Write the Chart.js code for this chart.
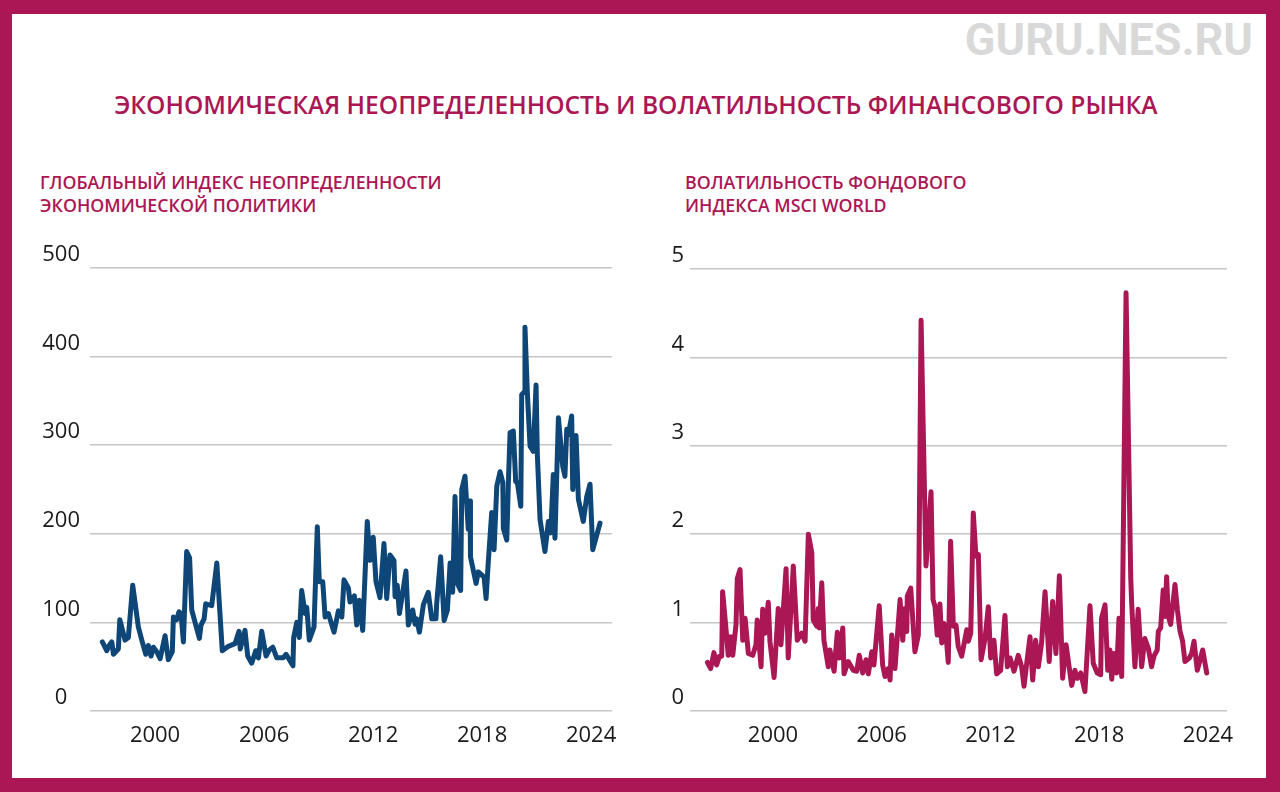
<!DOCTYPE html>
<html lang="ru">
<head>
<meta charset="utf-8">
<title>Экономическая неопределенность и волатильность</title>
<script src="https://cdn.jsdelivr.net/npm/chart.js@4.4.1/dist/chart.umd.min.js"></script>
<style>
  html, body { margin: 0; padding: 0; }
  body { width: 1280px; height: 792px; background: #ab1654; position: relative; overflow: hidden; font-family: "Open Sans", sans-serif; }
  .sheet { position: absolute; left: 12px; top: 14px; width: 1254px; height: 764px; background: #fff; }
  .wm { position: absolute; right: 27px; top: 17px; font: 700 45px Roboto, sans-serif; color: #d9d9d9; line-height: 1; }
  .title { position: absolute; left: 0; width: 1272px; top: 90px; text-align: center; font-weight: 600; font-size: 24.6px; color: #ab1654; line-height: 1.2; }
  .sub { position: absolute; top: 171px; font-weight: 600; font-size: 17.8px; color: #ab1654; line-height: 23px; }
  .box { position: absolute; top: 225px; height: 545px; }
</style>
</head>
<body>
<div class="sheet"></div>
<div class="wm">GURU.NES.RU</div>
<div class="title">ЭКОНОМИЧЕСКАЯ НЕОПРЕДЕЛЕННОСТЬ И ВОЛАТИЛЬНОСТЬ ФИНАНСОВОГО РЫНКА</div>
<div class="sub" style="left:40px">ГЛОБАЛЬНЫЙ ИНДЕКС НЕОПРЕДЕЛЕННОСТИ<br>ЭКОНОМИЧЕСКОЙ ПОЛИТИКИ</div>
<div class="sub" style="left:685px">ВОЛАТИЛЬНОСТЬ ФОНДОВОГО<br>ИНДЕКСА MSCI WORLD</div>
<div class="box" style="left:30px;width:600px"><canvas id="epu"></canvas></div>
<div class="box" style="left:635px;width:622px"><canvas id="vol"></canvas></div>

<script>
// years on the x axis (decimal)
const xTicks = [2000, 2006, 2012, 2018, 2024];

// global economic policy uncertainty index
const epuYears = [1997.10,1997.34,1997.47,1997.62,1997.71,1997.98,1998.06,1998.35,1998.53,1998.77,
  1999.08,1999.27,1999.49,1999.63,1999.78,1999.91,2000.09,2000.28,2000.55,2000.73,
  2000.95,2001.01,2001.19,2001.32,2001.43,2001.56,2001.74,2001.90,2002.02,2002.44,
  2002.53,2002.70,2002.79,2003.12,2003.40,2003.70,2004.03,2004.40,2004.62,2004.69,
  2004.95,2005.10,2005.32,2005.54,2005.69,2005.87,2006.11,2006.29,2006.48,2006.70,
  2007.06,2007.21,2007.59,2007.63,2007.80,2007.94,2008.07,2008.26,2008.35,2008.49,
  2008.75,2008.93,2009.04,2009.23,2009.36,2009.54,2009.85,2010.09,2010.28,2010.40,
  2010.64,2010.73,2010.97,2011.10,2011.24,2011.43,2011.68,2011.83,2012.01,2012.16,
  2012.38,2012.60,2012.75,2012.93,2013.15,2013.21,2013.33,2013.45,2013.81,2013.94,
  2014.18,2014.31,2014.40,2014.55,2014.77,2015.04,2015.23,2015.46,2015.50,2015.72,
  2015.91,2016.09,2016.24,2016.38,2016.51,2016.64,2016.82,2016.88,2017.06,2017.24,
  2017.34,2017.36,2017.67,2017.79,2018.11,2018.22,2018.34,2018.53,2018.66,2018.81,
  2018.99,2019.14,2019.17,2019.36,2019.44,2019.54,2019.72,2019.85,2019.94,2020.13,
  2020.18,2020.31,2020.36,2020.49,2020.64,2020.82,2020.97,2021.04,2021.19,2021.46,
  2021.65,2021.78,2021.92,2022.01,2022.20,2022.44,2022.56,2022.66,2022.75,2022.93,
  2022.99,2023.17,2023.30,2023.57,2023.76,2023.94,2024.09,2024.49];
const epuValues = [78,68,74,78,64,70,103,80,83,142,
  95,80,64,74,62,72,67,59,85,58,
  67,106,103,112,110,78,180,173,114,82,
  97,104,121,119,167,68,73,76,90,70,
  91,62,54,68,60,90,62,69,72,60,
  60,64,51,83,100,83,136,110,117,80,
  95,208,146,146,106,110,89,113,106,148,
  139,123,130,97,125,91,214,170,196,146,
  128,189,127,176,170,129,142,110,158,97,
  114,98,104,89,120,134,104,104,121,174,
  102,114,167,134,242,144,136,250,265,205,
  237,174,144,157,151,127,168,224,182,254,
  270,258,206,193,254,314,316,259,258,231,
  357,360,433,360,299,293,368,290,216,180,
  214,201,267,195,331,276,265,318,312,333,
  250,311,239,214,242,256,182,212];

// MSCI World volatility
const volYears = [1996.38,1996.56,1996.74,1996.89,1997.04,1997.17,1997.22,1997.41,1997.53,1997.67,
  1997.78,1997.96,1998.03,1998.18,1998.33,1998.46,1998.64,1998.88,1999.06,1999.13,
  1999.34,1999.43,1999.56,1999.74,1999.83,2000.06,2000.29,2000.44,2000.72,2000.84,
  2001.12,2001.34,2001.58,2001.77,2001.95,2002.14,2002.22,2002.41,2002.50,2002.55,
  2002.69,2002.81,2003.05,2003.14,2003.37,2003.55,2003.66,2003.85,2003.92,2004.15,
  2004.43,2004.62,2004.76,2004.95,2005.13,2005.26,2005.45,2005.57,2005.86,2006.05,
  2006.18,2006.36,2006.46,2006.55,2006.73,2007.01,2007.16,2007.28,2007.38,2007.41,
  2007.60,2007.83,2008.02,2008.17,2008.44,2008.72,2008.83,2008.94,2009.06,2009.21,
  2009.31,2009.43,2009.54,2009.67,2009.80,2009.95,2010.10,2010.22,2010.41,2010.69,
  2010.78,2010.91,2011.05,2011.20,2011.33,2011.48,2011.70,2011.88,2012.01,2012.19,
  2012.34,2012.56,2012.80,2012.93,2013.08,2013.30,2013.53,2013.72,2013.85,2014.00,
  2014.18,2014.33,2014.49,2014.64,2014.82,2015.01,2015.24,2015.43,2015.61,2015.80,
  2015.98,2016.17,2016.48,2016.66,2016.79,2016.98,2017.21,2017.49,2017.67,2017.89,
  2018.08,2018.13,2018.32,2018.47,2018.59,2018.69,2018.81,2018.96,2019.09,2019.24,
  2019.48,2019.74,2019.79,2019.97,2020.15,2020.34,2020.52,2020.71,2020.89,2021.02,
  2021.20,2021.26,2021.39,2021.53,2021.63,2021.72,2021.81,2021.94,2022.18,2022.31,
  2022.46,2022.60,2022.73,2022.97,2023.10,2023.23,2023.41,2023.71,2023.93];
const volValues = [0.55,0.48,0.66,0.52,0.62,0.62,1.35,0.92,0.63,0.84,
  0.63,0.98,1.50,1.60,0.80,1.05,0.65,0.63,0.75,1.03,
  0.50,1.15,0.88,1.23,0.79,0.38,1.16,0.75,1.61,0.60,
  1.64,0.80,0.88,0.79,2.00,1.79,1.03,0.96,1.16,0.94,
  1.45,0.80,0.50,0.69,0.45,0.89,0.60,0.94,0.42,0.56,
  0.46,0.45,0.63,0.43,0.58,0.42,0.67,0.52,1.19,0.52,
  0.39,0.48,0.35,0.86,0.48,1.26,0.80,1.16,0.90,1.30,
  1.39,0.67,0.86,4.42,1.64,2.48,1.26,1.18,0.86,1.21,
  0.77,0.99,0.88,0.55,1.92,0.96,0.97,0.73,0.62,0.92,
  0.79,0.88,2.24,1.75,1.77,0.58,0.82,1.18,0.60,0.80,
  0.42,0.46,1.08,0.50,0.60,0.45,0.63,0.50,0.28,0.54,
  0.84,0.35,0.80,0.50,0.77,1.35,0.56,1.24,0.65,1.53,
  0.37,0.75,0.29,0.46,0.37,0.43,0.22,1.19,0.54,0.43,
  0.41,1.05,1.20,0.46,0.69,0.36,0.65,0.43,1.05,0.39,
  4.73,1.50,1.22,0.50,1.15,0.50,0.82,0.71,0.50,0.62,
  0.69,0.90,0.94,1.37,1.07,1.52,1.07,0.98,1.43,1.15,
  0.90,0.79,0.56,0.60,0.65,0.79,0.46,0.69,0.43];

const tickFont = { family: "'Open Sans', sans-serif", size: 22 };

function makeChart(id, xs, ys, color, xMin, xMax, yMax, yStep, axisW, axisPad, pad) {
  return new Chart(document.getElementById(id), {
    type: 'line',
    data: {
      datasets: [{
        data: xs.map((x, i) => ({ x: x, y: ys[i] })),
        borderColor: color,
        borderWidth: 5,
        borderJoinStyle: 'round',
        borderCapStyle: 'round',
        pointRadius: 0,
        tension: 0
      }]
    },
    options: {
      responsive: true,
      maintainAspectRatio: false,
      animation: false,
      layout: { padding: pad },
      plugins: { legend: { display: false }, tooltip: { enabled: false } },
      scales: {
        x: {
          type: 'linear',
          min: xMin,
          max: xMax,
          afterBuildTicks: s => { s.ticks = xTicks.map(v => ({ value: v })); },
          afterFit: s => { s.height = 50; },
          grid: { display: false, drawTicks: false },
          border: { display: false },
          ticks: { font: tickFont, color: '#1a1a1a', padding: 12, maxRotation: 0, callback: v => String(v) }
        },
        y: {
          min: 0,
          max: yMax,
          afterFit: s => { s.width = axisW; },
          grid: { color: '#c6c6c6', lineWidth: 1.5, drawTicks: false },
          border: { display: false },
          ticks: { stepSize: yStep, font: tickFont, color: '#1a1a1a', padding: axisPad, crossAlign: 'center', labelOffset: -13 }
        }
      }
    }
  });
}

makeChart('epu', epuYears, epuValues, '#0d4677', 1996.42, 2025.15, 500, 100, 50, 10,
  { left: 10, right: 18, top: 43, bottom: 9 });
makeChart('vol', volYears, volValues, '#ab1654', 1995.42, 2025.05, 5, 1, 45, 6,
  { left: 10, right: 30, top: 44, bottom: 9 });
</script>
</body>
</html>
